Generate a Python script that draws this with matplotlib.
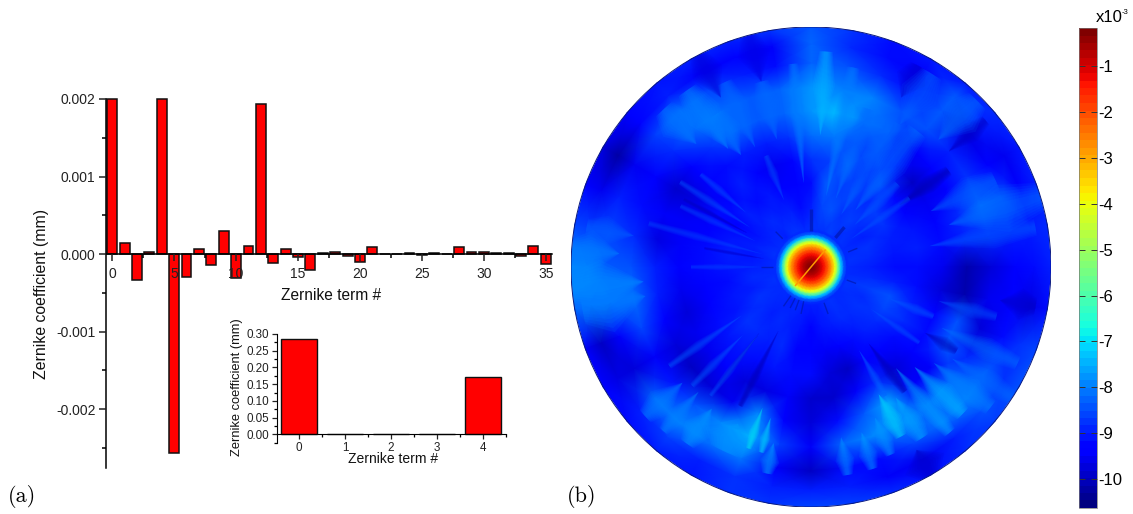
import numpy as np
import matplotlib
matplotlib.use("Agg")
import matplotlib.pyplot as plt
from matplotlib.patches import Circle
from matplotlib.ticker import MultipleLocator, FormatStrFormatter

plt.rcParams['font.family'] = ['Liberation Sans', 'DejaVu Sans']
plt.rcParams['axes.unicode_minus'] = False

W, H = 1133, 514

# panel (a), main bars (the two big ones run off the top of the axis)
terms = list(range(36))
coeffs = [0.002, 0.00014, -0.00033, 0.00002, 0.002, -0.00257, -0.0003, 0.00006, -0.00014,
          0.0003, -0.00031, 0.0001, 0.00193, -0.00012, 0.00007, -0.00004, -0.00021, 0.00001,
          0.00003, -0.00002, -0.0001, 0.00009, 0.0, 0.0, 0.00001, -0.00001, 0.00001, 0.0,
          0.00009, 0.00003, 0.00002, 0.00001, 0.00001, -0.00003, 0.0001, -0.00013]

# inset
inset_terms = [0, 1, 2, 3, 4]
inset_coeffs = [0.284, 0.0, 0.0, 0.0, 0.172]

# panel (b), values in units of 1e-3
core_r_px = [0, 3, 6, 9, 12, 15, 18, 21, 24, 27, 30, 33, 36]
core_vals = [-0.2, -0.3, -0.5, -0.8, -1.2, -1.7, -2.3, -3.0, -4.0, -5.5, -7.3, -8.4, -8.9]

map_r = [0.16, 0.25, 0.35, 0.45, 0.55, 0.65, 0.75, 0.85, 0.93, 1.0]
map_angles = list(range(0, 360, 10))
map_vals = [
    [-8.9, -9.0, -9.2, -9.2, -9.6, -10.2, -9.8, -9.4, -9.2, -9.0],
    [-8.8, -8.9, -9.1, -9.0, -9.2, -9.0, -8.9, -9.0, -9.0, -8.9],
    [-8.9, -8.8, -9.0, -9.1, -9.3, -8.9, -8.2, -8.5, -9.4, -9.0],
    [-8.9, -9.0, -8.8, -9.3, -9.6, -9.4, -8.8, -9.4, -9.6, -9.1],
    [-8.8, -8.9, -8.7, -9.2, -10.0, -9.3, -9.0, -9.7, -9.0, -8.9],
    [-8.9, -8.7, -8.9, -8.5, -9.2, -9.5, -8.5, -8.4, -8.4, -9.0],
    [-8.7, -8.8, -8.6, -8.9, -8.5, -8.3, -8.5, -9.2, -9.5, -9.1],
    [-8.8, -8.5, -8.7, -8.3, -8.6, -8.1, -8.0, -8.9, -9.2, -9.2],
    [-8.8, -8.6, -8.4, -8.7, -8.1, -7.4, -8.0, -8.5, -8.9, -8.8],
    [-8.8, -9.0, -9.2, -8.8, -8.2, -7.8, -7.8, -8.3, -8.3, -8.4],
    [-8.9, -9.2, -9.4, -9.3, -8.8, -8.3, -8.3, -9.2, -9.5, -8.8],
    [-8.8, -9.0, -9.4, -9.6, -9.0, -8.4, -8.4, -9.0, -9.3, -9.0],
    [-8.8, -9.0, -9.1, -9.3, -9.0, -8.3, -8.2, -8.6, -9.5, -9.0],
    [-9.0, -8.9, -9.2, -9.0, -9.2, -8.8, -8.2, -8.2, -9.0, -9.1],
    [-8.9, -9.0, -9.0, -9.3, -9.3, -9.4, -8.9, -8.7, -9.3, -9.3],
    [-8.9, -9.1, -9.3, -9.2, -9.7, -9.9, -9.4, -9.6, -10.3, -9.8],
    [-8.8, -9.0, -9.1, -9.4, -9.5, -9.5, -9.2, -9.0, -9.6, -9.3],
    [-8.9, -9.1, -9.0, -9.2, -9.5, -9.7, -8.9, -8.6, -8.7, -8.6],
    [-8.9, -9.0, -9.1, -9.2, -9.4, -9.0, -8.5, -8.4, -8.0, -7.9],
    [-8.9, -8.9, -9.2, -9.4, -9.6, -9.0, -8.2, -8.2, -8.2, -8.2],
    [-8.8, -9.0, -9.1, -9.4, -9.8, -9.4, -8.6, -9.5, -10.0, -9.5],
    [-8.9, -8.8, -9.1, -9.2, -9.6, -9.8, -9.5, -9.8, -9.7, -9.4],
    [-8.9, -8.9, -8.8, -9.1, -9.6, -10.0, -9.1, -8.3, -9.0, -9.2],
    [-8.9, -9.0, -8.9, -9.1, -9.4, -9.8, -8.5, -8.0, -8.7, -9.0],
    [-9.0, -8.9, -9.0, -9.2, -9.8, -9.6, -7.9, -8.2, -9.0, -9.1],
    [-8.9, -9.0, -8.9, -9.1, -9.7, -7.9, -7.5, -8.1, -8.8, -8.8],
    [-9.0, -9.1, -9.3, -9.2, -9.5, -9.4, -8.7, -9.5, -9.0, -8.8],
    [-9.0, -9.3, -9.4, -9.2, -9.9, -9.8, -9.5, -10.0, -9.0, -8.6],
    [-9.0, -9.1, -9.5, -9.8, -9.9, -9.2, -8.3, -9.2, -9.0, -8.7],
    [-8.9, -9.0, -9.4, -10.0, -9.5, -8.4, -7.9, -9.2, -9.5, -8.9],
    [-8.8, -8.9, -9.2, -9.4, -8.9, -7.6, -7.9, -8.6, -9.6, -9.2],
    [-8.9, -8.9, -9.0, -9.3, -9.8, -9.5, -8.3, -8.2, -9.0, -8.9],
    [-8.9, -8.8, -8.9, -9.2, -9.4, -9.5, -8.2, -8.0, -8.5, -8.7],
    [-8.8, -8.9, -8.6, -8.9, -9.2, -8.4, -8.9, -8.4, -8.8, -8.5],
    [-8.8, -8.7, -8.5, -9.0, -9.3, -8.5, -9.8, -9.2, -8.8, -8.6],
    [-8.9, -8.9, -9.0, -9.2, -9.8, -10.2, -9.6, -9.3, -9.7, -9.2],
]

# radial streaks seen on the map: angle, r from, r to, half width in deg, value
light_streaks = [
    (86, .55, .9, 2.5, -7.4), (95, .35, .85, 2, -8), (78, .3, .85, 2.5, -8), (70, .3, .7, 3, -8.2),
    (60, .25, .7, 4, -8.3), (52, .3, .72, 5, -8.2), (44, .25, .5, 3, -8.4), (35, .2, .5, 2, -8.5),
    (58, .7, .95, 4, -8.3), (45, .75, .98, 4, -8.2), (25, .55, .85, 4, -8.3), (17, .6, 1, 5, -8.1),
    (10, .5, .95, 3, -8.4), (105, .55, .8, 3, -8.2), (115, .55, .85, 3, -8.2), (125, .6, .9, 4, -7.9),
    (133, .7, .9, 4, -8), (122, .55, .75, 4, -8.0), (112, .3, .5, 2, -8.5), (140, .35, .6, 1.5, -8.5),
    (147, .3, .65, 1.5, -8.5), (155, .25, .6, 1.5, -8.6), (165, .2, .7, 1.5, -8.6), (176, .8, 1, 4, -7.9),
    (185, .7, 1, 5, -7.8), (190, .7, .97, 6, -8.0), (170, .75, .95, 3, -8.3), (180, .2, .5, 1.5, -8.6),
    (222, .72, .93, 3, -7.9), (228, .7, .92, 2, -7.9), (235, .72, .9, 3, -7.7), (245, .72, .85, 6, -7.7),
    (251, .62, .8, 1.2, -6.9), (255, .65, .8, 1.2, -7.0), (258, .75, .88, 2, -7.6), (215, .35, .72, 1.5, -8.4),
    (225, .4, .7, 1.5, -8.4), (232, .35, .68, 1.2, -8.5), (280, .72, .88, 2, -7.8), (287, .72, .88, 2, -7.7),
    (293, .68, .85, 2, -7.7), (298, .6, .8, 2.5, -7.0), (303, .65, .85, 3, -7.5), (310, .55, .9, 2.5, -7.6),
    (316, .6, .88, 3, -7.4), (322, .65, .95, 3, -7.9), (327, .7, 1, 2.5, -8.2), (335, .6, .95, 2.5, -8.2),
    (345, .55, .8, 2, -8.5), (338, .35, .55, 2, -8.4), (325, .3, .55, 1.5, -8.5), (300, .4, .62, 1.5, -8.3),
]
dark_streaks = [
    (152, .3, .6, 1, -10), (170, .2, .45, 1, -9.9), (35, .45, .7, 2.5, -10.2), (232, .35, .62, 1, -10),
    (243, .3, .65, 1.5, -10.1), (307, .4, .65, 2, -10.1), (330, .55, .7, 2, -10.1), (40, .75, .95, 2, -10),
    (62, .8, .95, 3, -9.9), (105, .8, 1, 3, -9.7), (118, .8, 1, 3, -9.8), (350, .8, .95, 3, -10),
    (300, .88, 1, 4, -10),
]

# short dark spikes around the hot spot: angle, start and end radius in px
spike_angles = [90, 50, 22, 180, 135, -20, 235, 243, 250, 258, 290]
spike_start = [36, 38, 40, 38, 40, 38, 35, 35, 35, 35, 38]
spike_end = [58, 52, 50, 50, 50, 48, 48, 46, 46, 48, 50]

cbar_ticks = [-1, -2, -3, -4, -5, -6, -7, -8, -9, -10]


def place(left, top, right, bottom):
    return [left / W, 1 - bottom / H, (right - left) / W, (bottom - top) / H]


def draw_streak(axis, cmap, norm, angle, r0, r1, half, value):
    # a spindle, laid several times so the edge goes soft
    half = half * 1.4
    for k in (1.0, 0.85, 0.7, 0.55, 0.4, 0.25):
        rs = [r0, r0 + 0.6 * (r1 - r0), r1, r1, r0 + 0.6 * (r1 - r0)]
        dang = [0, half * k, half * k * 0.5, -half * k * 0.5, -half * k]
        a = np.radians(angle + np.array(dang))
        axis.fill(np.array(rs) * np.cos(a), np.array(rs) * np.sin(a), color=cmap(norm(value)),
                  alpha=0.12, linewidth=0)


fig = plt.figure(figsize=(W / 100, H / 100), dpi=100)

# (a) main
ax = fig.add_axes(place(106, 99, 552, 468))
ax.bar(terms, coeffs, width=0.8, color='red', edgecolor='#101010', linewidth=1.1, clip_on=False)
ax.set_xlim(-0.5, 35.5)
ax.set_ylim(-0.00276, 0.002)
ax.spines['top'].set_visible(False)
ax.spines['right'].set_visible(False)
ax.spines['bottom'].set_position(('data', 0))
ax.spines['left'].set_linewidth(1.1)
ax.spines['bottom'].set_linewidth(1.1)
ax.xaxis.set_major_locator(MultipleLocator(5))
ax.xaxis.set_minor_locator(MultipleLocator(2.5))
ax.yaxis.set_major_locator(MultipleLocator(0.001))
ax.yaxis.set_minor_locator(MultipleLocator(0.0005))
ax.yaxis.set_major_formatter(FormatStrFormatter('%.3f'))
ax.tick_params(axis='both', which='major', length=5, width=1.1, labelsize=10, colors='#222222')
ax.tick_params(axis='both', which='minor', length=3, width=1.1)
ax.tick_params(axis='x', pad=4)
ax.tick_params(axis='y', pad=2.5)
ax.set_axisbelow(False)
fig.text(42 / W, 1 - 294 / H, 'Zernike coefficient (mm)', rotation=90, ha='center', va='center',
         fontsize=11.4, color='#111111')
fig.text(331 / W, 1 - 296 / H, 'Zernike term #', ha='center', va='center', fontsize=11.2, color='#111111')

# (a) inset
ins = fig.add_axes(place(277, 334, 506, 443))
ins.bar(inset_terms, inset_coeffs, width=0.8, color='red', edgecolor='#101010', linewidth=1.0)
ins.set_xlim(-0.478, 4.5)
ins.set_ylim(-0.026, 0.30)
ins.spines['top'].set_visible(False)
ins.spines['right'].set_visible(False)
ins.spines['bottom'].set_position(('data', 0))
ins.set_xticks(inset_terms)
ins.xaxis.set_minor_locator(MultipleLocator(0.5))
ins.yaxis.set_major_locator(MultipleLocator(0.05))
ins.yaxis.set_minor_locator(MultipleLocator(0.025))
ins.yaxis.set_major_formatter(FormatStrFormatter('%.2f'))
ins.tick_params(axis='both', which='major', length=3.5, width=0.9, labelsize=8.4, pad=2, colors='#222222')
ins.tick_params(axis='both', which='minor', length=2, width=0.9)
fig.text(237 / W, 1 - 387 / H, 'Zernike coefficient (mm)', rotation=90, ha='center', va='center',
         fontsize=9.3, color='#111111')
fig.text(393 / W, 1 - 459 / H, 'Zernike term #', ha='center', va='center', fontsize=10, color='#111111')

fig.text(8 / W, 1 - 497 / H, '(a)', ha='left', va='center', fontsize=16, family=['cmr10', 'Liberation Serif'])
fig.text(567 / W, 1 - 497 / H, '(b)', ha='left', va='center', fontsize=16, family=['cmr10', 'Liberation Serif'])

# (b) map
R_PX = 240.0
mp = fig.add_axes(place(571, 27, 1051, 507))
mp.set_xlim(-1, 1)
mp.set_ylim(-1, 1)
mp.axis('off')

all_r = np.array(core_r_px) / R_PX
all_r = np.concatenate([all_r, map_r])
table = np.array(map_vals)
core = np.tile(core_vals, (table.shape[0], 1))
vals = np.hstack([core, table])
vals = np.vstack([vals, vals[:1]])
theta = np.radians(map_angles + [360])
tt, rr = np.meshgrid(theta, all_r, indexing='ij')
jet = plt.get_cmap('jet')
norm = plt.Normalize(-10.63, -0.17)
mesh = mp.pcolormesh(rr * np.cos(tt), rr * np.sin(tt), vals, cmap=jet, norm=norm, shading='gouraud')

for streak in dark_streaks + light_streaks:
    draw_streak(mp, jet, norm, *streak)

mp.add_patch(Circle((0, 0), 1.0, fill=False, edgecolor='#0a1a80', linewidth=0.7))

for ang, r0, r1 in zip(spike_angles, spike_start, spike_end):
    a = np.radians(ang)
    mp.plot([r0 / R_PX * np.cos(a), r1 / R_PX * np.cos(a)],
            [r0 / R_PX * np.sin(a), r1 / R_PX * np.sin(a)],
            color='#0018b0', linewidth=2.4 if ang in (90, 50) else 1.0, alpha=0.7, solid_capstyle='butt')

# thin bright streak through the hot spot
a = np.radians(50)
mp.plot([-24 / R_PX * np.cos(a), 22 / R_PX * np.cos(a)], [-24 / R_PX * np.sin(a), 22 / R_PX * np.sin(a)],
        color='#ff9a00', linewidth=1.1)

# colour bar
cax = fig.add_axes(place(1079, 28, 1097, 508))
sm = plt.cm.ScalarMappable(norm=norm, cmap=plt.get_cmap('jet', 64))
cb = fig.colorbar(sm, cax=cax, ticks=cbar_ticks)
cb.ax.set_yticklabels([str(t) for t in cbar_ticks])
cb.ax.tick_params(direction='in', length=4, width=0.7, left=True, right=True, labelsize=12, pad=1,
                  color='#333333')
cb.outline.set_linewidth(0.5)
cb.outline.set_edgecolor('#777777')
fig.text(1096 / W, 1 - 18 / H, 'x10', ha='left', va='center', fontsize=12)
fig.text(1122 / W, 1 - 13 / H, '-3', ha='left', va='center', fontsize=5.5)

fig.savefig('out.png', dpi=100)
